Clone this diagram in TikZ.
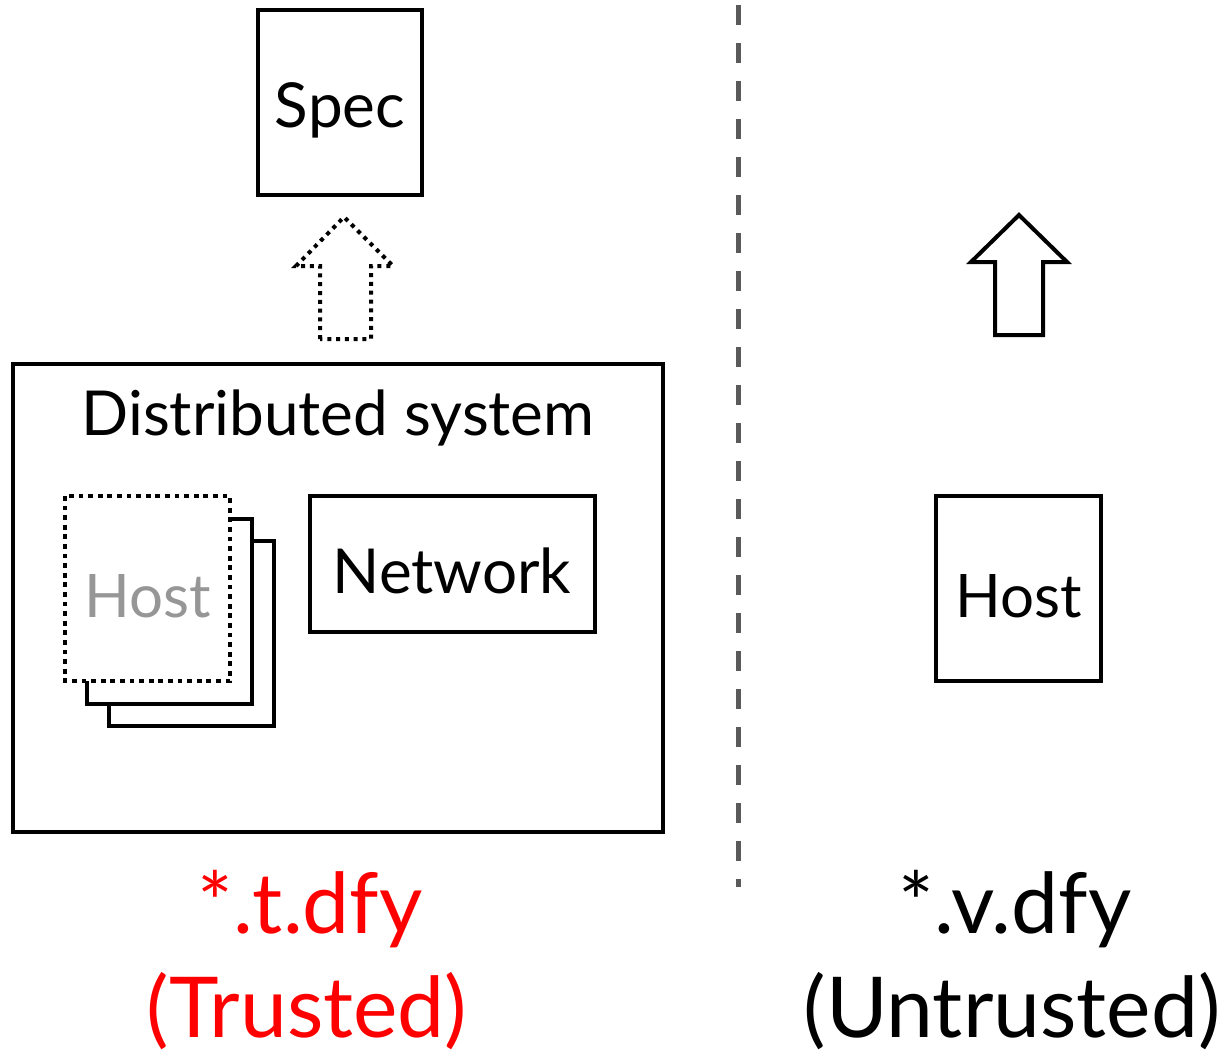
\documentclass[tikz,border=0pt]{standalone}
\usepackage{fontspec}
\setmainfont{Lato}
\definecolor{trustred}{RGB}{255,0,0}
\definecolor{divgray}{RGB}{90,90,90}
\definecolor{hostgray}{RGB}{150,150,150}
\begin{document}
\begin{tikzpicture}[x=0.5pt,y=-0.5pt,
  box/.style={draw=black,line width=2pt,fill=white},
  dotbox/.style={draw=black,line width=2pt,fill=white,dash pattern=on 2.4pt off 2.4pt},
  lbl/.style={font=\fontsize{31pt}{36pt}\selectfont,inner sep=0pt},
  big/.style={font=\fontsize{42pt}{48pt}\selectfont,inner sep=0pt}]
\useasboundingbox (0,0) rectangle (1223,1056);

% divider between trusted and untrusted parts
\coordinate (divtop) at (738,5);
\coordinate (divbot) at (738,887);
\draw[divgray,line width=2.5pt,dash pattern=on 10pt off 9pt] (divtop) -- (divbot);

% specification
\draw[box] (258,10) rectangle (422,195);
\node[lbl] (spec) at (340,110) {Spec};

% dotted refinement arrow
\draw[line width=2pt,dash pattern=on 2pt off 2.4pt,line join=miter]
  (320,339) -- (320,266) -- (296,266) -- (344,217) -- (393,266) -- (371,266) -- (371,339) -- cycle;

% distributed system
\draw[box] (13,364) rectangle (663,832);
\node[lbl] (dist) at (338,418) {Distributed system};

% stack of hosts
\draw[box] (109,541) rectangle (274,726);
\draw[box] (87,519) rectangle (252,704);
\draw[dotbox] (65,496) rectangle (230,681);
\node[lbl,text=hostgray,font=\fontsize{30pt}{34pt}\selectfont] (hostA) at (148,596) {Host};

% network
\draw[box] (310,496) rectangle (595,632);
\node[lbl] (net) at (452,571) {Network};

% untrusted side
\draw[line width=2pt,line join=miter]
  (995,335) -- (995,262) -- (971,262) -- (1019,215) -- (1067,262) -- (1043,262) -- (1043,335) -- cycle;
\draw[box] (936,496) rectangle (1101,681);
\node[lbl,font=\fontsize{30pt}{34pt}\selectfont] (hostB) at (1019,596) {Host};

% file labels
\node[big,text=trustred] (tfile) at (310,909) {*.t.dfy};
\node[big,text=trustred] (tnote) at (307,1011) {(Trusted)};
\node[big] (vfile) at (1015,909) {*.v.dfy};
\node[big] (vnote) at (1012,1011) {(Untrusted)};
\end{tikzpicture}
\end{document}
